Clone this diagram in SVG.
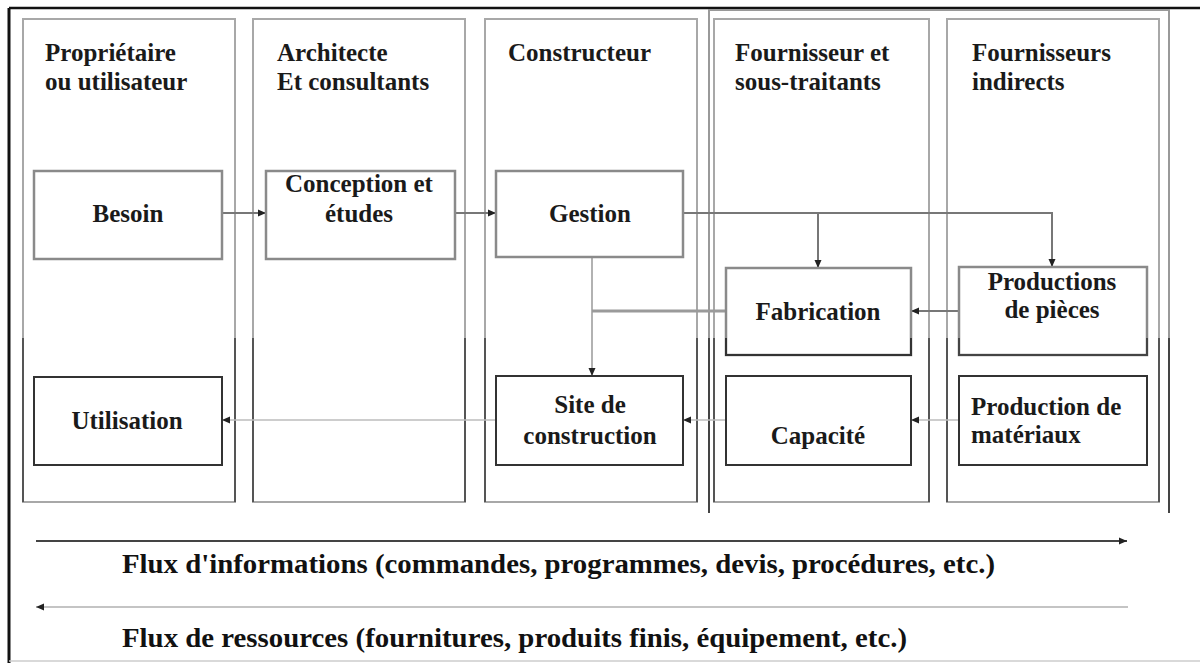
<svg xmlns="http://www.w3.org/2000/svg" width="1200" height="663" viewBox="0 0 1200 663">
<defs>
<style>
.col{fill:none;stroke:#a8a8a8;stroke-width:2}
.colDark{fill:none;stroke:#555;stroke-width:2}
.boxU{fill:#fff;stroke:#8a8a8a;stroke-width:2.5}
.boxL{fill:#fff;stroke:#333;stroke-width:2}
.hd{font-family:"Liberation Serif","Times New Roman",serif;font-weight:bold;font-size:25px;fill:#1a1a1a}
.bx{font-family:"Liberation Serif","Times New Roman",serif;font-weight:bold;font-size:25px;fill:#1a1a1a;text-anchor:middle}
.bxl{font-family:"Liberation Serif","Times New Roman",serif;font-weight:bold;font-size:25px;fill:#1a1a1a}
.flux{font-family:"Liberation Serif","Times New Roman",serif;font-weight:bold;font-size:28px;fill:#111}
.cu{fill:none;stroke:#777;stroke-width:2}
.cl{fill:none;stroke:#bdbdbd;stroke-width:1.5}
.cv{fill:none;stroke:#999;stroke-width:1.5}
</style>
<marker id="ah" viewBox="0 0 8 8" refX="8" refY="4" markerWidth="8" markerHeight="8" markerUnits="userSpaceOnUse" orient="auto">
<path d="M0,0.5 L8,4 L0,7.5 z" fill="#222"/>
</marker>
</defs>
<rect width="1200" height="663" fill="#fff"/>
<g id="frame">
<line x1="9" y1="8" x2="1200" y2="8" stroke="#111" stroke-width="2.5"/>
<line x1="9" y1="8" x2="9" y2="663" stroke="#111" stroke-width="3"/>
<line x1="9" y1="661" x2="1200" y2="661" stroke="#ccc" stroke-width="1.5"/>
<path d="M709,513 V10 H1169 V513" fill="none" stroke="#999" stroke-width="2"/>
<path d="M709,338 V513 M1169,338 V513" fill="none" stroke="#444" stroke-width="2"/>
</g>
<g id="col-proprietaire">
<rect class="col" x="23" y="19" width="212" height="483"/>
<path class="colDark" d="M23,338 V502 M235,338 V502"/>
<text class="hd" x="45" y="61">Propriétaire</text>
<text class="hd" x="45" y="90">ou utilisateur</text>
</g>
<g id="col-architecte">
<rect class="col" x="253" y="19" width="212" height="483"/>
<path class="colDark" d="M253,338 V502 M465,338 V502"/>
<text class="hd" x="277" y="61">Architecte</text>
<text class="hd" x="277" y="90">Et consultants</text>
</g>
<g id="col-constructeur">
<rect class="col" x="485" y="19" width="212" height="483"/>
<path class="colDark" d="M485,338 V502 M697,338 V502"/>
<text class="hd" x="508" y="61">Constructeur</text>
</g>
<g id="col-fournisseur">
<rect class="col" x="714" y="19" width="215" height="483"/>
<path class="colDark" d="M714,338 V502 M929,338 V502"/>
<text class="hd" x="735" y="61">Fournisseur et</text>
<text class="hd" x="735" y="90">sous-traitants</text>
</g>
<g id="col-indirects">
<rect class="col" x="947" y="19" width="212" height="483"/>
<path class="colDark" d="M947,338 V502 M1159,338 V502"/>
<text class="hd" x="972" y="61">Fournisseurs</text>
<text class="hd" x="972" y="90">indirects</text>
</g>
<g id="connectors">
<line class="cu" x1="222" y1="213" x2="266" y2="213" marker-end="url(#ah)"/>
<line class="cu" x1="455" y1="213" x2="496" y2="213" marker-end="url(#ah)"/>
<path class="cu" d="M683,213 H1052 V267" marker-end="url(#ah)"/>
<line class="cu" x1="818" y1="213" x2="818" y2="268" marker-end="url(#ah)"/>
<path class="cv" d="M592,257 V376" marker-end="url(#ah)"/>
<line x1="592" y1="311" x2="726" y2="311" stroke="#9a9a9a" stroke-width="3"/>
<line class="cu" x1="959" y1="311" x2="911" y2="311" marker-end="url(#ah)"/>
<line class="cl" x1="959" y1="420" x2="911" y2="420" marker-end="url(#ah)"/>
<line class="cl" x1="726" y1="420" x2="683" y2="420" marker-end="url(#ah)"/>
<line class="cl" x1="496" y1="420" x2="222" y2="420" marker-end="url(#ah)"/>
<line x1="36" y1="541" x2="1127" y2="541" stroke="#444" stroke-width="2" marker-end="url(#ah)"/>
<line x1="1128" y1="607" x2="36" y2="607" stroke="#c4c4c4" stroke-width="2" marker-end="url(#ah)"/>
</g>
<g id="besoin">
<rect class="boxU" x="34" y="171" width="188" height="88"/>
<text class="bx" x="128" y="222">Besoin</text>
</g>
<g id="conception">
<rect class="boxU" x="266" y="171" width="189" height="88"/>
<text class="bx" x="359" y="192">Conception et</text>
<text class="bx" x="359" y="222">études</text>
</g>
<g id="gestion">
<rect class="boxU" x="496" y="171" width="187" height="86"/>
<text class="bx" x="590" y="222">Gestion</text>
</g>
<g id="fabrication">
<rect class="boxU" x="726" y="268" width="185" height="87"/>
<path d="M726,338 V355 H911 V338" fill="none" stroke="#333" stroke-width="2"/>
<text class="bx" x="818" y="320">Fabrication</text>
</g>
<g id="productions">
<rect class="boxU" x="959" y="267" width="188" height="88"/>
<path d="M959,338 V355 H1147 V338" fill="none" stroke="#444" stroke-width="2"/>
<text class="bx" x="1052" y="290">Productions</text>
<text class="bx" x="1052" y="318">de pièces</text>
</g>
<g id="utilisation">
<rect class="boxL" x="34" y="377" width="188" height="88"/>
<text class="bx" x="127" y="429">Utilisation</text>
</g>
<g id="site">
<rect class="boxL" x="496" y="376" width="187" height="89"/>
<text class="bx" x="590" y="413">Site de</text>
<text class="bx" x="590" y="444">construction</text>
</g>
<g id="capacite">
<rect class="boxL" x="726" y="376" width="185" height="89"/>
<text class="bx" x="818" y="444">Capacité</text>
</g>
<g id="materiaux">
<rect class="boxL" x="959" y="376" width="188" height="89"/>
<text class="bxl" x="971" y="415">Production de</text>
<text class="bxl" x="971" y="443">matériaux</text>
</g>
<g id="legend">
<text class="flux" x="122" y="573" textLength="873" lengthAdjust="spacingAndGlyphs">Flux d'informations (commandes, programmes, devis, procédures, etc.)</text>
<text class="flux" x="122" y="647" textLength="785" lengthAdjust="spacingAndGlyphs">Flux de ressources (fournitures, produits finis, équipement, etc.)</text>
</g>
</svg>
